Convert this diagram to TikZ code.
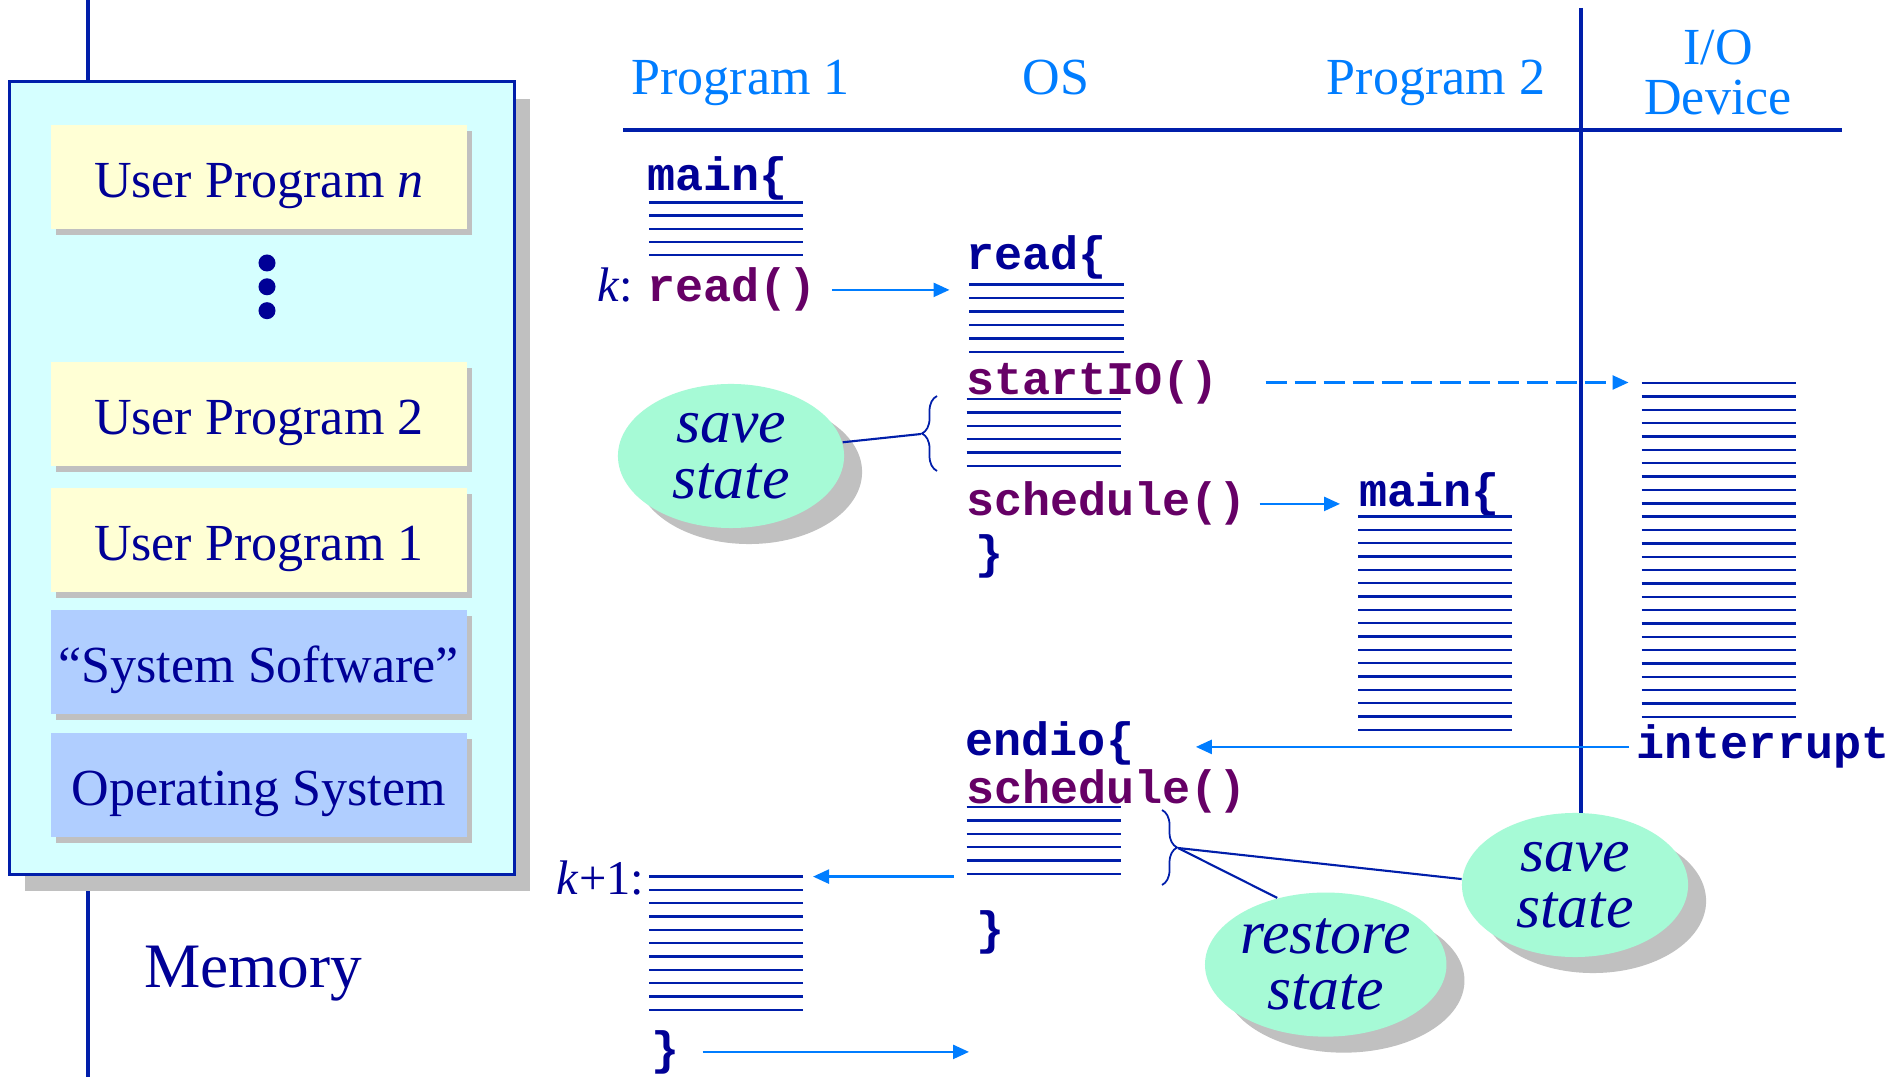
\documentclass[tikz,border=0pt]{standalone}
\usepackage{fontspec}
\setmainfont{Liberation Serif}
\setmonofont{Liberation Mono}
\usetikzlibrary{arrows.meta, shapes.geometric, shadows, decorations.pathreplacing}
\definecolor{navy}{RGB}{0,0,150}
\definecolor{rulenavy}{RGB}{0,30,170}
\definecolor{skyblue}{RGB}{0,125,255}
\definecolor{plum}{RGB}{102,0,102}
\definecolor{memcyan}{RGB}{213,255,255}
\definecolor{cream}{RGB}{255,255,213}
\definecolor{paleblue}{RGB}{176,206,255}
\definecolor{mint}{RGB}{166,250,214}
\definecolor{shade}{RGB}{192,192,192}

\begin{document}
\begin{tikzpicture}[x=0.01cm, y=-0.01cm,
  hd/.style={skyblue, anchor=base, inner sep=0, font=\fontsize{14.8}{17}\selectfont},
  code/.style={anchor=base west, inner sep=0, font=\fontsize{13.3}{16}\selectfont\ttfamily\bfseries},
  call/.style={code, plum},
  kw/.style={code, navy},
  lbl/.style={navy, anchor=base east, inner sep=0, font=\fontsize{13.8}{16}\selectfont},
  membox/.style={rectangle, draw=rulenavy, line width=0.75pt, fill=memcyan,
    minimum width=5.047cm, minimum height=7.92cm,
    drop shadow={shadow xshift=0.16cm, shadow yshift=-0.17cm, fill=shade, opacity=1}},
  seg/.style={rectangle, minimum width=4.156cm, minimum height=1.04cm, inner sep=0,
    text height=0.41cm, text depth=0pt,
    text=navy, font=\fontsize{14.8}{17}\selectfont,
    drop shadow={shadow xshift=0.055cm, shadow yshift=-0.06cm, fill=shade, opacity=1}},
  user/.style={seg, fill=cream},
  sys/.style={seg, fill=paleblue},
  bubble/.style={ellipse, fill=mint, minimum width=2.26cm, minimum height=1.44cm,
    inner sep=0, align=center, text=navy, font=\fontsize{17.6}{15.8}\selectfont\itshape,
    drop shadow={shadow xshift=0.18cm, shadow yshift=-0.16cm, fill=shade, opacity=1}},
  rule/.style={rulenavy, line width=0.68pt},
  bar/.style={rulenavy, line width=1.1pt},
  flow/.style={skyblue, line width=0.7pt, -{Triangle[length=0.16cm, width=0.14cm]}},
  tie/.style={rulenavy, line width=0.6pt},
  curly/.style={rulenavy, line width=0.5pt, decorate, decoration={brace, amplitude=0.15cm}}]

  \fill[white] (0,0) rectangle (1895,1077);
  \useasboundingbox (0,0) rectangle (1895,1077);

  % memory column
  \draw[rulenavy, line width=1.3pt] (87.8,0) -- (87.8,1077);
  \node[membox] (mem) at (261.7,478) {};
  \node[user] (upn) at (258.8,176.8) {User Program \textit{n}};
  \foreach \y in {263,286.8,310.7}
    \fill[navy] (267,\y) circle (0.085cm);
  \node[user] (up2) at (258.8,414.2) {User Program 2};
  \node[user] (up1) at (258.8,540) {User Program 1};
  \node[sys] (ssw) at (258.8,661.8) {``System Software''};
  \node[sys] (osys) at (258.8,785) {Operating System};
  \node[navy, anchor=base, inner sep=0, font=\fontsize{18}{21}\selectfont] (memlbl) at (253,987) {Memory};

  % columns
  \draw[bar] (623,130) -- (1842,130);
  \draw[bar] (1580.8,8) -- (1580.8,860);
  \node[hd] (hp1) at (740.5,94.6) {Program 1};
  \node[hd] (hos) at (1056,94.6) {OS};
  \node[hd] (hp2) at (1436,94.6) {Program 2};
  \node[hd] (hio) at (1718,64.3) {I/O};
  \node[hd] (hdev) at (1718,115) {Device};

  % code
  \node[kw] (pm) at (647,191) {main\{};
  \foreach \i in {0,...,4}
    \draw[rule] (649,202.5+13.2*\i) -- ++(154,0);
  \node[lbl] (kl) at (634,302) {\textit{k}:};
  \node[call] (rd) at (647,302) {read()};

  \node[kw] (osr) at (965.5,269.6) {read\{};
  \foreach \i in {0,...,5}
    \draw[rule] (969,284.6+13.45*\i) -- ++(155,0);
  \node[call] (sio) at (965.5,394.6) {startIO()};
  \foreach \i in {0,...,5}
    \draw[rule] (966.6,399+13.4*\i) -- ++(154.5,0);
  \node[call] (sch) at (965.5,516) {schedule()};
  \node[kw] (cbA) at (975,569) {\}};

  \node[kw] (pm2) at (1359,507) {main\{};
  \foreach \i in {0,...,16}
    \draw[rule] (1358,516.4+13.35*\i) -- ++(154,0);

  \coordinate (ioL) at (1641.5,383.2);
  \foreach \i in {0,...,25}
    \draw[rule] (ioL) ++(0,13.35*\i) -- ++(154.5,0);
  \node[kw] (intr) at (1636,759) {interrupt};

  \node[kw] (eio) at (965,755.7) {endio\{};
  \node[call] (schb) at (965.5,803.7) {schedule()};
  \coordinate (osF) at (966.6,807);
  \foreach \i in {0,...,5}
    \draw[rule] (osF) ++(0,13.4*\i) -- ++(154.5,0);
  \node[kw] (cbB) at (976,944) {\}};

  \node[lbl] (kl2) at (645,894.4) {\textit{k}+1:};
  \coordinate (kR) at (803,876.6);
  \foreach \i in {0,...,10}
    \draw[rule] (kR) ++(0,13.33*\i) -- ++(-154,0);
  \node[kw] (cbC) at (651,1064) {\}};
  \coordinate (endA) at (969,1050);

  % braces and notes
  \draw[curly] (937,471) -- (937,396);
  \coordinate (b1) at (921,434);
  \draw[curly] (1162,810) -- (1162,885);
  \coordinate (b2) at (1178,848);
  \node[bubble] (s1) at (731,456) {save\\state};
  \node[bubble] (s2) at (1575,885) {save\\state};
  \node[bubble] (rs) at (1325.7,964.6) {restore\\state};
  \draw[tie] (s1.7) -- (b1);
  \draw[tie] (b2) -- (s2.177);
  \draw[tie] (b2) -- (rs.126);

  % control flow
  \draw[flow, shorten <=0.15cm, shorten >=0.16cm] (rd.east) -- (rd.east -| osr.west);
  \draw[flow, dash pattern=on 0.21cm off 0.08cm, shorten <=0.46cm, shorten >=0.13cm] (sio.east) -- (sio.east -| ioL);
  \draw[flow, shorten <=0.12cm, shorten >=0.19cm] (sch.east) -- (sch.east -| pm2.west);
  \draw[flow, shorten <=0.07cm, shorten >=0.61cm] (intr.west) -- (intr.west -| eio.east);
  \draw[flow, shorten <=0.13cm, shorten >=0.1cm] (kR -| osF) -- (kR);
  \draw[flow, shorten <=0.22cm] (cbC.east) -- (cbC.east -| endA);
\end{tikzpicture}
\end{document}
